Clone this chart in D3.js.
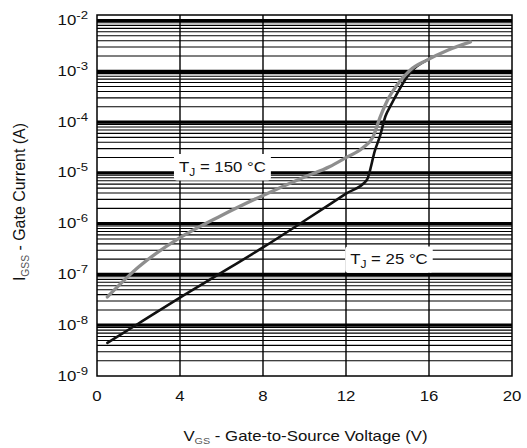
<!DOCTYPE html>
<html>
<head>
<meta charset="utf-8">
<script src="https://cdn.jsdelivr.net/npm/d3@7/dist/d3.min.js"></script>
<style>
  html, body { margin: 0; padding: 0; background: #fff; }
  svg { display: block; }
  text { font-family: "Liberation Sans", Arial, sans-serif; fill: #111; }
</style>
</head>
<body>
<svg id="chart" width="527" height="448"></svg>
<script>
// Gate current vs. gate-to-source voltage, two junction temperatures
const xTicks = [0, 4, 8, 12, 16, 20];
const yDecades = [-9, -8, -7, -6, -5, -4, -3, -2];

// T_J = 150 °C
const vgsHot = [0.5, 2, 4, 6, 8, 10, 11.2, 12, 12.8, 13.3, 13.65, 14, 14.45, 15.1, 15.9, 16.9, 18];
const igssHot = [3.6e-8, 1.4e-7, 5.3e-7, 1.45e-6, 3.6e-6, 8.3e-6, 1.32e-5, 2.0e-5, 3.1e-5, 5.1e-5,
                 1.27e-4, 2.7e-4, 5.3e-4, 1.06e-3, 1.66e-3, 2.6e-3, 3.8e-3];

// T_J = 25 °C
const vgsRoom = [0.5, 2, 4, 6, 8, 10, 12, 13, 13.4, 13.65, 13.9, 14.15, 14.5, 15.1, 15.9];
const igssRoom = [4.5e-9, 1.08e-8, 3.5e-8, 1.08e-7, 3.4e-7, 1.14e-6, 3.9e-6, 7.2e-6, 2.8e-5, 5.5e-5,
                  1.3e-4, 2.1e-4, 3.9e-4, 9.5e-4, 1.66e-3];

const seriesLabels = [
  { sub: "J", rest: " = 150 °C", v: 3.95, i: 1.05e-5 },
  { sub: "J", rest: " = 25 °C",  v: 12.2, i: 1.6e-7 }
];

const svg = d3.select("#chart");
const plotL = 97, plotR = 512, plotT = 15, plotB = 376;

const x = d3.scaleLinear().domain([0, 20]).range([plotL, plotR]);
const y = d3.scaleLog().domain([1e-9, 1e-2]).range([plotB, 20.5]);

const SX = 1.2; // horizontal text stretch

// horizontal grid: minor lines for 2..9 of each decade, heavy lines at decades
const minor = [];
yDecades.slice(0, -1).forEach(d => {
  for (let m = 2; m <= 9; m++) minor.push(m * Math.pow(10, d));
});
const grid = svg.append("g");
grid.selectAll("line.minor").data(minor).join("line")
  .attr("x1", plotL).attr("x2", plotR)
  .attr("y1", d => y(d)).attr("y2", d => y(d))
  .attr("stroke", "#000").attr("stroke-width", 1.1);
grid.selectAll("line.decade").data(yDecades.slice(1)).join("line")
  .attr("x1", plotL).attr("x2", plotR)
  .attr("y1", d => y(Math.pow(10, d))).attr("y2", d => y(Math.pow(10, d)))
  .attr("stroke", "#000").attr("stroke-width", 3.2);

// vertical grid
grid.selectAll("line.v").data(xTicks.slice(1, -1)).join("line")
  .attr("x1", d => x(d)).attr("x2", d => x(d))
  .attr("y1", plotT).attr("y2", plotB)
  .attr("stroke", "#000").attr("stroke-width", 1.4);

// frame
svg.append("rect")
  .attr("x", plotL).attr("y", plotT)
  .attr("width", plotR - plotL).attr("height", plotB - plotT)
  .attr("fill", "none").attr("stroke", "#000").attr("stroke-width", 1.5);

// curves
const line = d3.line()
  .x(d => x(d[0])).y(d => y(d[1]))
  .curve(d3.curveMonotoneX);

svg.append("path")
  .datum(vgsRoom.map((v, k) => [v, igssRoom[k]]))
  .attr("d", line)
  .attr("fill", "none").attr("stroke", "#111").attr("stroke-width", 2.6)
  .attr("stroke-linecap", "round");

svg.append("path")
  .datum(vgsHot.map((v, k) => [v, igssHot[k]]))
  .attr("d", line)
  .attr("fill", "none").attr("stroke", "#8e8e8e").attr("stroke-width", 3.3)
  .attr("stroke-linecap", "round");

// series labels on white boxes
seriesLabels.forEach(s => {
  const g = svg.append("g");
  const box = g.append("rect").attr("fill", "#fff").attr("rx", 3);
  const t = g.append("text")
    .attr("transform", `translate(${x(s.v)},${y(s.i)}) scale(${SX},1)`)
    .attr("font-size", 14);
  t.append("tspan").text("T");
  t.append("tspan").attr("font-size", 10).attr("dy", 4).text(s.sub);
  t.append("tspan").attr("dy", -4).text(s.rest);
  const bb = g.node().getBBox();
  box.attr("x", bb.x - 5).attr("y", bb.y - 5)
     .attr("width", bb.width + 10).attr("height", bb.height + 8);
});

// x tick labels
svg.append("g").selectAll("text").data(xTicks).join("text")
  .attr("transform", d => `translate(${x(d)},401) scale(${SX},1)`)
  .attr("text-anchor", "middle").attr("font-size", 14)
  .text(d => d);

// y tick labels 10^n
const yl = svg.append("g").selectAll("text").data(yDecades).join("text")
  .attr("transform", d => `translate(88,${y(Math.pow(10, d)) + 4.5}) scale(${SX},1)`)
  .attr("text-anchor", "end").attr("font-size", 14);
yl.append("tspan").text("10");
yl.append("tspan").attr("font-size", 11).attr("dy", -6).text(d => "-" + (-d));

// axis titles
const xt = svg.append("text")
  .attr("transform", `translate(${(plotL + plotR) / 2 + 1},441) scale(${SX},1)`)
  .attr("text-anchor", "middle").attr("font-size", 14);
xt.append("tspan").text("V");
xt.append("tspan").attr("font-size", 9).attr("dy", 3).attr("fill", "#555").text("GS");
xt.append("tspan").attr("dy", -3).text(" - Gate-to-Source Voltage (V)");

const ytl = svg.append("text")
  .attr("transform", `translate(25,202) rotate(-90) scale(1.14,${SX})`)
  .attr("text-anchor", "middle").attr("font-size", 14);
ytl.append("tspan").text("I");
ytl.append("tspan").attr("font-size", 9).attr("dy", 3).attr("fill", "#555").text("GSS");
ytl.append("tspan").attr("dy", -3).text(" - Gate Current (A)");
</script>
</body>
</html>
